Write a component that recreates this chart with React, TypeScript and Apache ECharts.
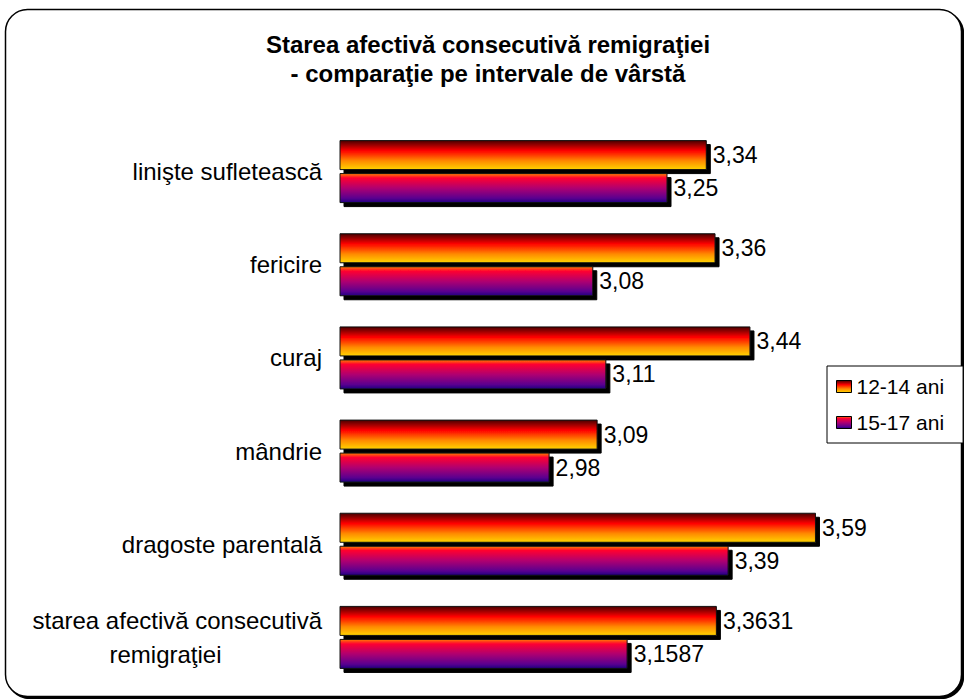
import React, { useEffect, useRef } from "react";
import * as echarts from "echarts";

const categories = [
  "linişte sufletească",
  "fericire",
  "curaj",
  "mândrie",
  "dragoste parentală",
  "starea afectivă consecutivă remigraţiei",
];
const seriesNames = ["12-14 ani", "15-17 ani"];
const values1214 = [3.34, 3.36, 3.44, 3.09, 3.59, 3.3631];
const values1517 = [3.25, 3.08, 3.11, 2.98, 3.39, 3.1587];
const titleLines = [
  "Starea afectivă consecutivă remigraţiei",
  "- comparaţie pe intervale de vârstă",
];

const FONT = 'Arial, "Liberation Sans", sans-serif';

const grad1 = new echarts.graphic.LinearGradient(0, 0, 0, 1, [
  { offset: 0, color: "#4a0000" },
  { offset: 0.35, color: "#ff0000" },
  { offset: 0.7, color: "#ff8a00" },
  { offset: 1, color: "#ffd400" },
]);
const grad2 = new echarts.graphic.LinearGradient(0, 0, 0, 1, [
  { offset: 0, color: "#ff8000" },
  { offset: 0.15, color: "#ff0030" },
  { offset: 0.5, color: "#b00070" },
  { offset: 0.85, color: "#5a0090" },
  { offset: 1, color: "#200080" },
]);

export default function App() {
  const ref = useRef<HTMLDivElement>(null);
  useEffect(() => {
    if (!ref.current) return;
    const chart = echarts.init(ref.current, null, { renderer: "svg" });
    const barItem = (color: any) => ({
      color,
      borderColor: "#111",
      borderWidth: 1,
      shadowColor: "#000",
      shadowBlur: 0,
      shadowOffsetX: 4,
      shadowOffsetY: 4,
    });
    const valueLabel = {
      show: true,
      position: "right",
      distance: 6,
      color: "#000",
      fontSize: 23,
      fontFamily: FONT,
      formatter: (p: any) => String(p.value).replace(".", ","),
    };
    chart.setOption({
      animation: false,
      backgroundColor: "#fff",
      graphic: [
        {
          type: "rect",
          z: -10,
          shape: { x: 5.5, y: 9.5, width: 956, height: 687, r: 22 },
          style: {
            fill: "#fff",
            stroke: "#000",
            lineWidth: 1.5,
            shadowColor: "#000",
            shadowBlur: 0,
            shadowOffsetX: 2,
            shadowOffsetY: 2,
          },
        },
      ],
      title: {
        text: titleLines.join("\n"),
        left: 488,
        textAlign: "center",
        top: 30,
        padding: 0,
        textStyle: {
          fontFamily: FONT,
          fontWeight: "bold",
          fontSize: 24,
          lineHeight: 29,
          color: "#000",
        },
      },
      legend: {
        orient: "vertical",
        left: 827,
        top: 366,
        padding: [10, 19, 10, 9],
        borderColor: "#000",
        borderWidth: 1,
        backgroundColor: "#fff",
        itemWidth: 15,
        itemHeight: 12,
        itemGap: 15,
        icon: "rect",
        itemStyle: {
          borderColor: "#000",
          borderWidth: 1,
          shadowBlur: 0,
          shadowOffsetX: 0,
          shadowOffsetY: 0,
          shadowColor: "transparent",
        },
        textStyle: { fontFamily: FONT, fontSize: 21, color: "#000" },
        data: seriesNames,
      },
      grid: { left: 340, top: 125, height: 559, right: 100 },
      xAxis: {
        type: "value",
        min: 2.5,
        max: 3.7,
        show: false,
      },
      yAxis: {
        type: "category",
        inverse: true,
        data: categories,
        axisLine: { show: false },
        axisTick: { show: false },
        splitLine: { show: false },
        axisLabel: {
          margin: 18,
          color: "#000",
          fontFamily: FONT,
          fontSize: 24,
          formatter: (v: string) => {
            if (v.length > 30) {
              const i = v.lastIndexOf(" ");
              return `{a|${v.slice(0, i)}}\n{b|${v.slice(i + 1)}}`;
            }
            return `{a|${v}}`;
          },
          rich: {
            a: { fontFamily: FONT, fontSize: 24, color: "#000", lineHeight: 34 },
            b: {
              fontFamily: FONT,
              fontSize: 24,
              color: "#000",
              lineHeight: 34,
              width: 313,
              align: "center",
            },
          },
        },
      },
      series: [
        {
          name: seriesNames[0],
          type: "bar",
          data: values1214,
          barWidth: 30,
          barGap: "10%",
          itemStyle: barItem(grad1),
          label: valueLabel,
        },
        {
          name: seriesNames[1],
          type: "bar",
          data: values1517,
          barWidth: 30,
          itemStyle: barItem(grad2),
          label: valueLabel,
        },
      ],
    });
    return () => chart.dispose();
  }, []);
  return (
    <div
      ref={ref}
      style={{ position: "absolute", left: 0, top: 0, width: 964, height: 699 }}
    />
  );
}
